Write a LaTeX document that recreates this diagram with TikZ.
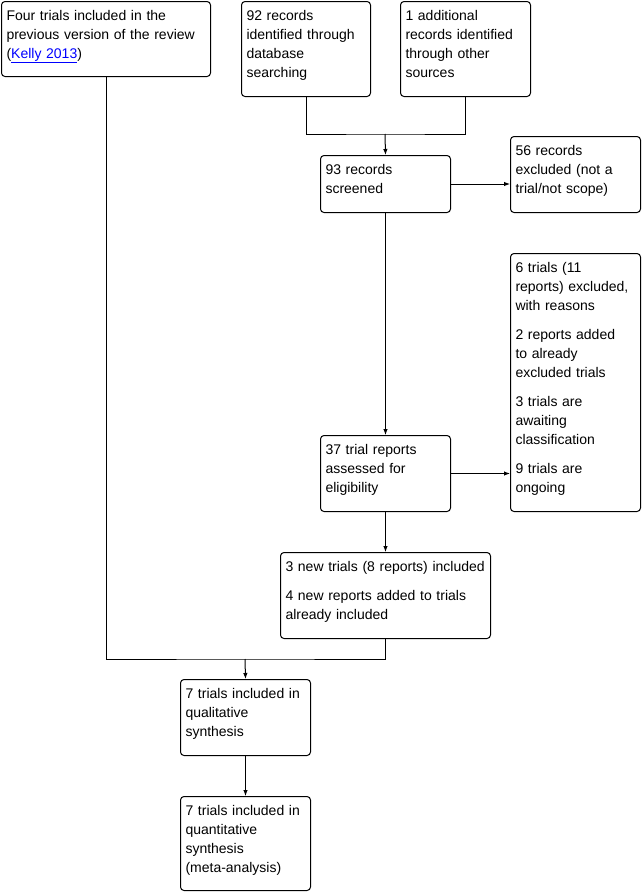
\documentclass[tikz,border=0pt]{standalone}
\usepackage{fontspec}
\setmainfont{Liberation Sans}
\usetikzlibrary{arrows.meta}
\definecolor{flowink}{HTML}{000000}
\definecolor{flowlink}{HTML}{0000FF}

\begin{document}
\begin{tikzpicture}[
  x=1pt,
  y=-1pt,
  every node/.style={font=\fontsize{14pt}{19pt}\selectfont, flowink},
  flowbox/.style={draw=flowink, line width=1pt, rounded corners=3.5pt,
                  anchor=north west, align=left, inner xsep=5pt,
                  inner ysep=0pt, text height=18.5pt},
  link/.style={flowink, line width=1pt},
  arrow/.style={flowink, line width=1pt, -{Latex[length=6pt,width=4.5pt]}}
]
  \useasboundingbox (0,0) rectangle (642,892);

  % ---- identification -----------------------------------------------------
  \node[flowbox, text width=199pt, text depth=56.5pt] (prev) at (1,1)
    {Four trials included in the\\ previous version of the review\\
     ({\color{flowlink}\underline{Kelly 2013}})};
  \node[flowbox, text width=119pt, text depth=76.5pt] (dbsearch) at (241,1)
    {92 records\\ identified through\\ database\\ searching};
  \node[flowbox, text width=120pt, text depth=76.5pt] (othersrc) at (400,1)
    {1 additional\\ records identified\\ through other\\ sources};

  % ---- screening ----------------------------------------------------------
  \node[flowbox, text width=120pt, text depth=38.5pt] (screened) at (320,155)
    {93 records\\ screened};
  \node[flowbox, text width=120pt, text depth=57.5pt] (excluded) at (510,136)
    {56 records\\ excluded (not a\\ trial/not scope)};

  % ---- eligibility --------------------------------------------------------
  \node[flowbox, text width=120pt, text depth=57.5pt] (assessed) at (320,435)
    {37 trial reports\\ assessed for\\ eligibility};
  \node[flowbox, text width=120pt, text depth=239.5pt] (reasons) at (510,253)
    {6 trials (11\\ reports) excluded,\\ with reasons\\[10pt]
     2 reports added\\ to already\\ excluded trials\\[10pt]
     3 trials are\\ awaiting\\ classification\\[10pt]
     9 trials are\\ ongoing};

  % ---- included -----------------------------------------------------------
  \node[flowbox, text width=200pt, text depth=67.5pt] (newtrials) at (280,552)
    {3 new trials (8 reports) included\\[10pt]
     4 new reports added to trials\\ already included};
  \node[flowbox, text width=120pt, text depth=57.5pt] (qualit) at (180,679)
    {7 trials included in\\ qualitative\\ synthesis};
  \node[flowbox, text width=120pt, text depth=75.5pt] (quantit) at (180,796)
    {7 trials included in\\ quantitative\\ synthesis\\ (meta-analysis)};

  % ---- connectors ---------------------------------------------------------
  \coordinate (topjoin) at (385,134);
  \coordinate (botjoin) at (245,659);

  \draw[link] (dbsearch.south) |- (topjoin) -| (othersrc.south);
  \draw[arrow] (topjoin) -- (screened.north);
  \draw[arrow] (screened.east) -- (screened.east -| excluded.west);
  \draw[arrow] (screened.south) -- (assessed.north);
  \draw[arrow] (assessed.east) -- (assessed.east -| reasons.west);
  \draw[arrow] (assessed.south) -- (newtrials.north);

  \draw[link] (prev.south) |- (botjoin) -| (newtrials.south);
  \draw[arrow] (botjoin) -- (qualit.north);
  \draw[arrow] (qualit.south) -- (quantit.north);
\end{tikzpicture}
\end{document}
